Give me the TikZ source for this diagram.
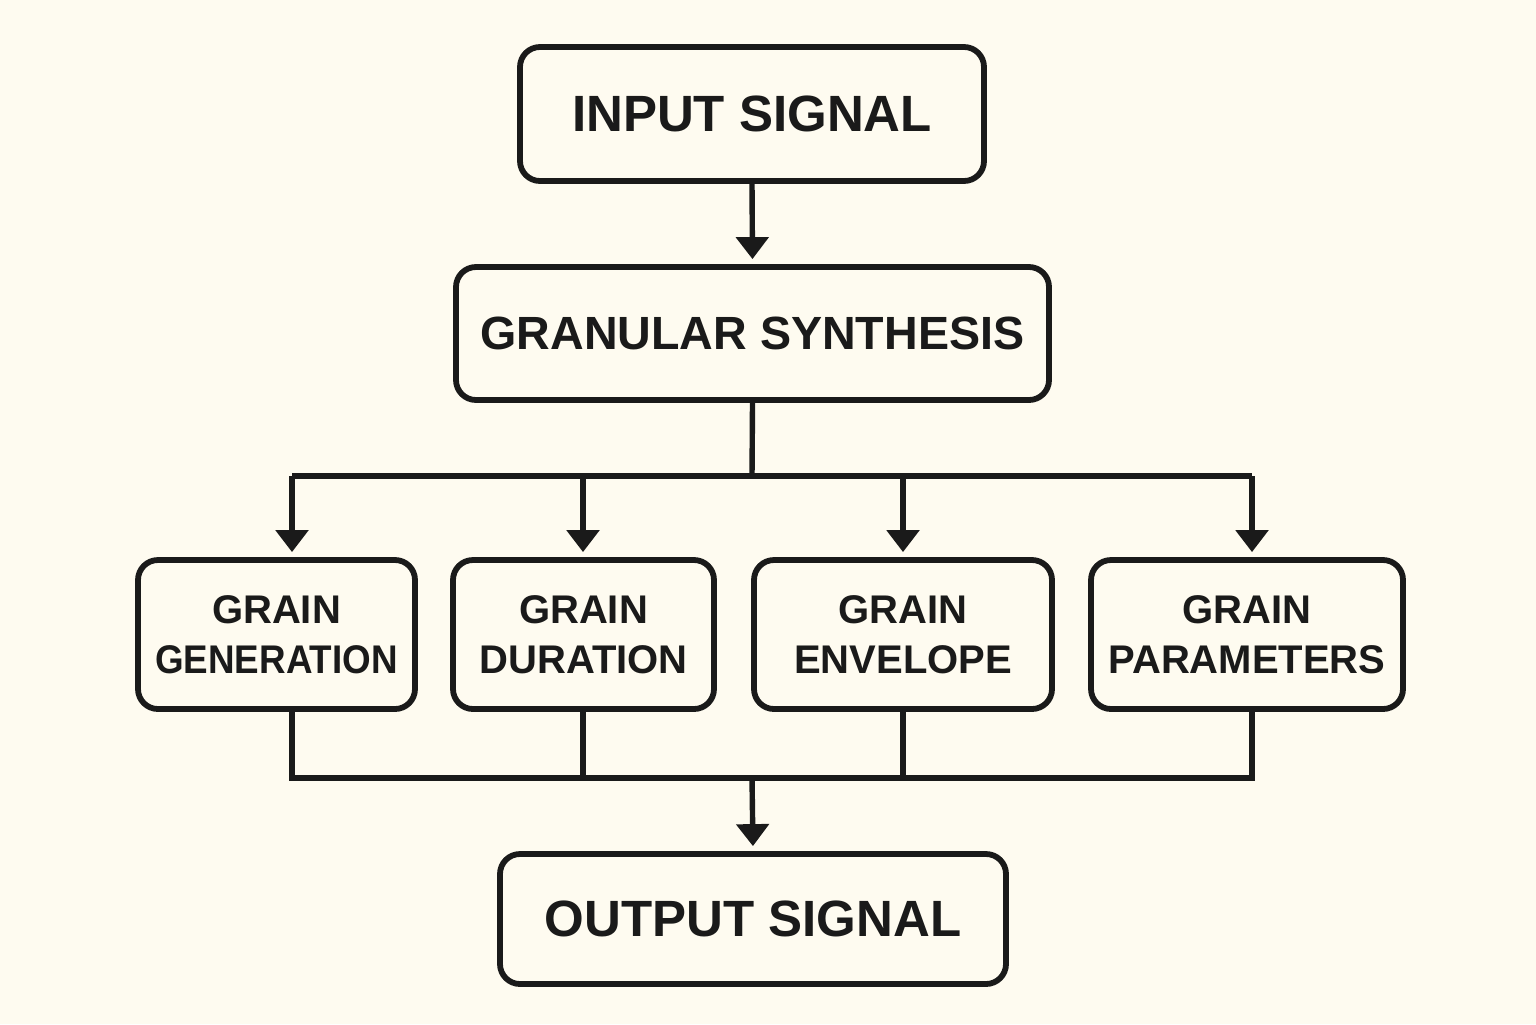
\documentclass[tikz,border=0pt]{standalone}
\usepackage{fontspec}
\setmainfont{Liberation Sans}
\usetikzlibrary{arrows.meta,calc}
\definecolor{bg}{HTML}{FEFBF0}
\definecolor{ink}{HTML}{1A1A1A}
\tikzset{
  box/.style={draw=ink, line width=2.9pt, rounded corners=10pt, fill=bg,
    align=center, inner sep=0pt, text=ink, font=\bfseries},
  bigbox/.style={box, font=\fontsize{25.5}{30}\selectfont\bfseries},
  smallbox/.style={box, minimum height=74.5pt, font=\fontsize{20}{25}\selectfont\bfseries},
  wire/.style={draw=ink, line width=2.7pt, line join=miter},
  arr/.style={wire, -{Triangle[width=16pt,length=11pt]}, shorten >=2.5pt},
}
\begin{document}
\begin{tikzpicture}[x=0.5pt,y=-0.5pt]
\useasboundingbox[fill=bg] (0,0) rectangle (1536,1024);
\node[bigbox, minimum width=232pt, minimum height=67pt] (in) at (752,114) {INPUT SIGNAL};
\node[box, font=\fontsize{23.3}{28}\selectfont\bfseries, minimum width=296.5pt, minimum height=66.5pt] (gran) at (752.5,333.5) {GRANULAR SYNTHESIS};
\node[smallbox, minimum width=138.5pt] (gen) at (276.5,634.5) {GRAIN\\\scalebox{0.92}[1]{GENERATION}};
\node[smallbox, minimum width=130.5pt] (dur) at (583.5,634.5) {GRAIN\\DURATION};
\node[smallbox, minimum width=149pt] (env) at (903,634.5) {GRAIN\\ENVELOPE};
\node[smallbox, minimum width=156pt] (par) at (1247,634.5) {GRAIN\\PARAMETERS};
\node[bigbox, minimum width=253pt, minimum height=65pt] (out) at (753,919) {OUTPUT SIGNAL};

\coordinate (jt) at (752,476);
\coordinate (b1) at (292,476);
\coordinate (b2) at (583,476);
\coordinate (b3) at (903,476);
\coordinate (b4) at (1252,476);
\coordinate (jb) at (752,778);
\coordinate (c1) at (292,778);
\coordinate (c2) at (583,778);
\coordinate (c3) at (903,778);
\coordinate (c4) at (1252,778);

\draw[arr] (in.south) -- (gran.north);
\draw[wire] (gran.south) -- (jt);
\draw[wire] (b1) -- (b4);
\draw[arr] (b1) -- (b1 |- gen.north);
\draw[arr] (b2) -- (b2 |- dur.north);
\draw[arr] (b3) -- (b3 |- env.north);
\draw[arr] (b4) -- (b4 |- par.north);

\draw[wire] (c1 |- gen.south) -- (c1) -- (c4) -- (c4 |- par.south);
\draw[wire] (c2 |- dur.south) -- (c2);
\draw[wire] (c3 |- env.south) -- (c3);
\draw[arr] (jb) -- (out.north);
\end{tikzpicture}
\end{document}
